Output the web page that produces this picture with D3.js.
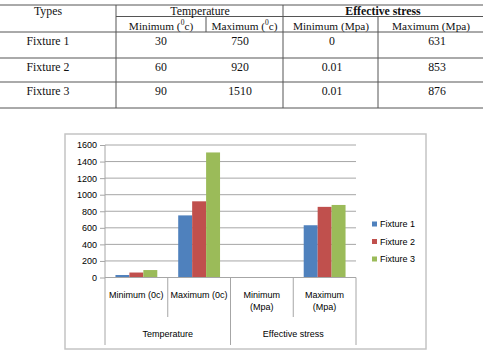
<!DOCTYPE html>
<html>
<head>
<meta charset="utf-8">
<style>
  body { margin: 0; background: #fff; }
  svg { display: block; }
</style>
</head>
<body>
<div id="chart"></div>
<script src="https://d3js.org/d3.v7.min.js"></script>
<script>
  // data
  var types = ["Fixture 1", "Fixture 2", "Fixture 3"];
  var tempMin = [30, 60, 90];
  var tempMax = [750, 920, 1510];
  var stressMin = [0, 0.01, 0.01];
  var stressMax = [631, 853, 876];
  var categories = ["Minimum (0c)", "Maximum (0c)", "Minimum\n(Mpa)", "Maximum\n(Mpa)"];
  var groups = ["Temperature", "Effective stress"];
  var yTicks = [0, 200, 400, 600, 800, 1000, 1200, 1400, 1600];
  var colors = ["#4F81BD", "#C0504D", "#9BBB59"];

  var w = 483, h = 353;
  var svg = d3.select("#chart").append("svg").attr("width", w).attr("height", h);

  // ---------- table ----------
  var serif = "'Liberation Serif', 'Times New Roman', serif";
  var dark = "#555";
  var t = svg.append("g").attr("font-family", serif).attr("font-size", 11.8).attr("fill", "#111");

  function hline(yy, xa, xb, col, sw) {
    t.append("line").attr("x1", xa).attr("x2", xb).attr("y1", yy).attr("y2", yy)
      .attr("stroke", col).attr("stroke-width", sw);
  }
  function vline(xx, ya, yb) {
    t.append("line").attr("x1", xx).attr("x2", xx).attr("y1", ya).attr("y2", yb)
      .attr("stroke", dark).attr("stroke-width", 1);
  }
  var rowTop = [32, 58, 82];
  hline(5, 0, w, dark, 1);
  hline(16.5, 116, w, dark, 1);
  hline(32, 0, w, dark, 1);
  hline(58, 0, w, "#aaa", 2);
  hline(82, 0, w, "#aaa", 2);
  hline(108, 0, w, dark, 1);
  vline(116, 5, 108);
  vline(283, 5, 108);
  vline(378, 16.5, 108);
  vline(206, 16.5, 32);

  function txt(xx, yy, s) {
    return t.append("text").attr("x", xx).attr("y", yy).attr("text-anchor", "middle").text(s);
  }
  txt(48, 15, "Types");
  txt(200, 15, "Temperature");
  txt(383, 15, "Effective stress").attr("font-weight", "bold");

  function degHead(xx, label) {
    var e = t.append("text").attr("x", xx).attr("y", 29.5).attr("text-anchor", "middle")
      .attr("font-size", 11.3);
    e.append("tspan").text(label + " (");
    e.append("tspan").attr("font-size", 7.5).attr("dy", -4.5).text("0");
    e.append("tspan").attr("dy", 4.5).text("c)");
  }
  degHead(161, "Minimum");
  degHead(244.5, "Maximum");
  txt(331, 29.5, "Minimum (Mpa)").attr("font-size", 11.3);
  txt(431, 29.5, "Maximum (Mpa)").attr("font-size", 11.3);

  var colX = [161, 240, 332, 437];
  types.forEach(function (d, i) {
    var yy = rowTop[i] + 12.5;
    txt(48, yy, d);
    txt(colX[0], yy, tempMin[i]);
    txt(colX[1], yy, tempMax[i]);
    txt(colX[2], yy, stressMin[i]);
    txt(colX[3], yy, stressMax[i]);
  });

  // ---------- chart ----------
  var sans = "'Liberation Sans', Arial, sans-serif";
  var c = svg.append("g").attr("font-family", sans).attr("font-size", 9).attr("fill", "#000");

  c.append("rect").attr("x", 65).attr("y", 134).attr("width", 361).attr("height", 215)
    .attr("fill", "#fff").attr("stroke", "#c4c4c4").attr("stroke-width", 1.5);

  var plotL = 105, plotR = 356, plotT = 145, base = 277.5;
  var y = d3.scaleLinear().domain([0, 1600]).range([base, plotT]);
  var x0 = d3.scaleBand().domain(categories).range([plotL, plotR]);
  var x1 = d3.scaleBand().domain(types).range([0, x0.bandwidth()]).paddingInner(0).paddingOuter(0.75);

  // gridlines
  c.append("g").selectAll("line").data(yTicks.slice(1)).enter().append("line")
    .attr("x1", plotL).attr("x2", plotR)
    .attr("y1", function (d) { return y(d); }).attr("y2", function (d) { return y(d); })
    .attr("stroke", "#a6a6a6").attr("stroke-width", 1);

  // y axis
  var yAxis = c.append("g").attr("transform", "translate(" + plotL + ",0)")
    .call(d3.axisLeft(y).tickValues(yTicks).tickFormat(d3.format("d")).tickSize(5).tickPadding(3));
  yAxis.select(".domain").remove();
  yAxis.selectAll(".tick line").attr("stroke", "#a6a6a6");
  yAxis.selectAll(".tick text").attr("font-family", sans).attr("font-size", 9).attr("fill", "#000");

  // bars
  var series = types.map(function (name, i) {
    return { name: name, values: [tempMin[i], tempMax[i], stressMin[i], stressMax[i]] };
  });
  c.append("g").selectAll("g").data(series).enter().append("g")
    .attr("fill", function (d, i) { return colors[i]; })
    .selectAll("rect").data(function (d) {
      return d.values.map(function (v, j) { return { name: d.name, cat: categories[j], v: v }; });
    }).enter().append("rect")
    .attr("x", function (d) { return x0(d.cat) + x1(d.name); })
    .attr("width", x1.bandwidth())
    .attr("y", function (d) { return y(d.v); })
    .attr("height", function (d) { return base - y(d.v); });

  // axis lines
  var axisCol = "#a6a6a6";
  c.append("line").attr("x1", plotL).attr("x2", plotL).attr("y1", plotT).attr("y2", 345).attr("stroke", axisCol);
  c.append("line").attr("x1", plotL).attr("x2", plotR).attr("y1", base).attr("y2", base).attr("stroke", axisCol);
  categories.forEach(function (cat, j) {
    if (j === 0) return;
    var xx = x0(cat);
    var long = (j % 2 === 0);
    c.append("line").attr("x1", xx).attr("x2", xx).attr("y1", base).attr("y2", long ? 345 : 317).attr("stroke", axisCol);
  });
  c.append("line").attr("x1", plotR).attr("x2", plotR).attr("y1", base).attr("y2", 345).attr("stroke", axisCol);

  // category labels
  categories.forEach(function (cat) {
    var lines = cat.split("\n");
    var cx = x0(cat) + x0.bandwidth() / 2;
    var e = c.append("text").attr("text-anchor", "middle").attr("x", cx).attr("y", 297.5);
    lines.forEach(function (l, k) {
      e.append("tspan").attr("x", cx).attr("dy", k ? 12.5 : 0).text(l);
    });
  });
  groups.forEach(function (g, k) {
    var cx = x0(categories[k * 2]) + x0.bandwidth();
    c.append("text").attr("text-anchor", "middle").attr("x", cx).attr("y", 336.5).text(g);
  });

  // legend
  types.forEach(function (d, i) {
    var ly = 224 + i * 17.5;
    c.append("rect").attr("x", 372).attr("y", ly - 2.5).attr("width", 5).attr("height", 5).attr("fill", colors[i]);
    c.append("text").attr("x", 380).attr("y", ly + 3.2).text(d);
  });
</script>
</body>
</html>
